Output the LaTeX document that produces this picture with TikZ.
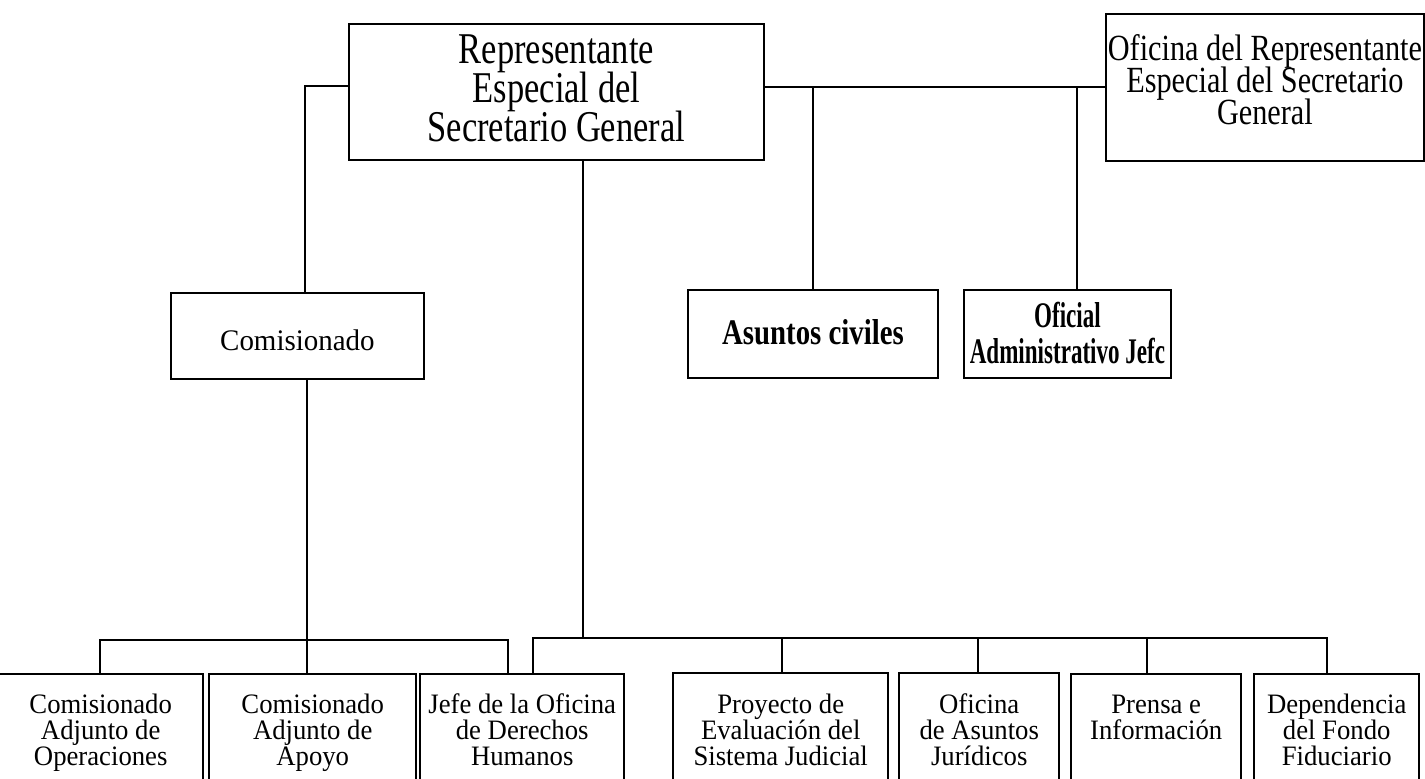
\documentclass[tikz,border=0pt]{standalone}
\usepackage{fontspec}
\setmainfont{Liberation Serif}
\newfontfamily\repfont[FakeStretch=0.785]{Liberation Serif}
\newfontfamily\offfont[FakeStretch=0.82]{Liberation Serif}
\newfontfamily\comfont[FakeStretch=0.97]{Liberation Serif}
\newfontfamily\civfont[FakeStretch=0.80]{Liberation Serif}
\newfontfamily\admfont[FakeStretch=0.64]{Liberation Serif}
\newfontfamily\unitfont[FakeStretch=0.95]{Liberation Serif}
\usetikzlibrary{calc}
% text block: width, height, top to first baseline, lines
\newcommand{\cell}[4]{\parbox[t][#2][t]{#1}{\lineskiplimit=-\maxdimen\centering\rule{0pt}{#3}#4}}
\tikzset{
  org/.style={draw, line width=1.1pt, inner sep=0pt, anchor=north west},
  unit/.style={org, line width=1.4pt, font=\unitfont\fontsize{16}{14.8}\selectfont},
  link/.style={line width=1.1pt}
}

\begin{document}
\begin{tikzpicture}[x=0.02cm, y=-0.02cm]
\useasboundingbox (0,0) rectangle (1425,778);
\clip (0,0) rectangle (1425,778);

% upper level
\node[org, font=\repfont\fontsize{25}{22.2}\selectfont] (rep) at (348,23)
  {\cell{8.3cm}{2.72cm}{0.8cm}{Representante\\Especial del\\Secretario General}};
\node[org, font=\offfont\fontsize{21}{18.2}\selectfont] (ofi) at (1105,13)
  {\cell{6.36cm}{2.94cm}{0.94cm}{Oficina del Representante\\Especial del Secretario\\General}};
\node[org, font=\comfont\fontsize{17}{17}\selectfont] (com) at (170,292)
  {\cell{5.06cm}{1.72cm}{1.16cm}{Comisionado}};
\node[org, font=\civfont\bfseries\fontsize{20.5}{20}\selectfont] (asu) at (687,289)
  {\cell{5cm}{1.76cm}{1.1cm}{Asuntos civiles}};
\node[org, font=\admfont\bfseries\fontsize{20.5}{20}\selectfont] (adm) at (963,289)
  {\cell{4.14cm}{1.76cm}{0.76cm}{Oficial\\Administrativo Jefc}};

% lower level
\node[unit] (u1) at (-3,673)  {\cell{4.1cm}{2.6cm}{0.78cm}{Comisionado\\Adjunto de\\Operaciones}};
\node[unit] (u2) at (208,673) {\cell{4.14cm}{2.6cm}{0.78cm}{Comisionado\\Adjunto de\\Apoyo}};
\node[unit] (u3) at (419,673) {\cell{4.08cm}{2.6cm}{0.78cm}{Jefe de la Oficina\\de Derechos\\Humanos}};
\node[unit] (u4) at (672,672) {\cell{4.3cm}{2.6cm}{0.8cm}{Proyecto de\\Evaluación del\\Sistema Judicial}};
\node[unit] (u5) at (898,672) {\cell{3.2cm}{2.6cm}{0.8cm}{Oficina\\de Asuntos\\Jurídicos}};
\node[unit] (u6) at (1070,673) {\cell{3.4cm}{2.6cm}{0.78cm}{Prensa e\\Información}};
\node[unit] (u7) at (1253,673) {\cell{3.3cm}{2.6cm}{0.78cm}{Dependencia\\del Fondo\\Fiduciario}};

% connectors
\coordinate (jl) at (305,86);
\coordinate (ja) at (1077,0);
\coordinate (jc) at (583,638);
\coordinate (jb) at (307,640);
\draw[link] (rep.west |- jl) -- (jl) -- (jl |- com.north);
\draw[link] (rep.east |- ofi.west) -- (ofi.west);
\draw[link] (asu.north |- ofi.west) -- (asu.north);
\draw[link] (ja |- ofi.west) -- (ja |- adm.north);
\draw[link] (jc |- rep.south) -- (jc);
\draw[link] (jb |- com.south) -- (jb |- u2.north);
\draw[link] (100,640 |- u1.north) -- (100,640) -- (508,640) -- (508,640 |- u3.north);
\draw[link] (533,638 |- u3.north) -- (533,638) -- (1327,638) -- (1327,638 |- u7.north);
\foreach \x/\u in {782/u4, 978/u5, 1147/u6}
  \draw[link] (\x,638) -- (\x,638 |- \u.north);
\end{tikzpicture}
\end{document}
